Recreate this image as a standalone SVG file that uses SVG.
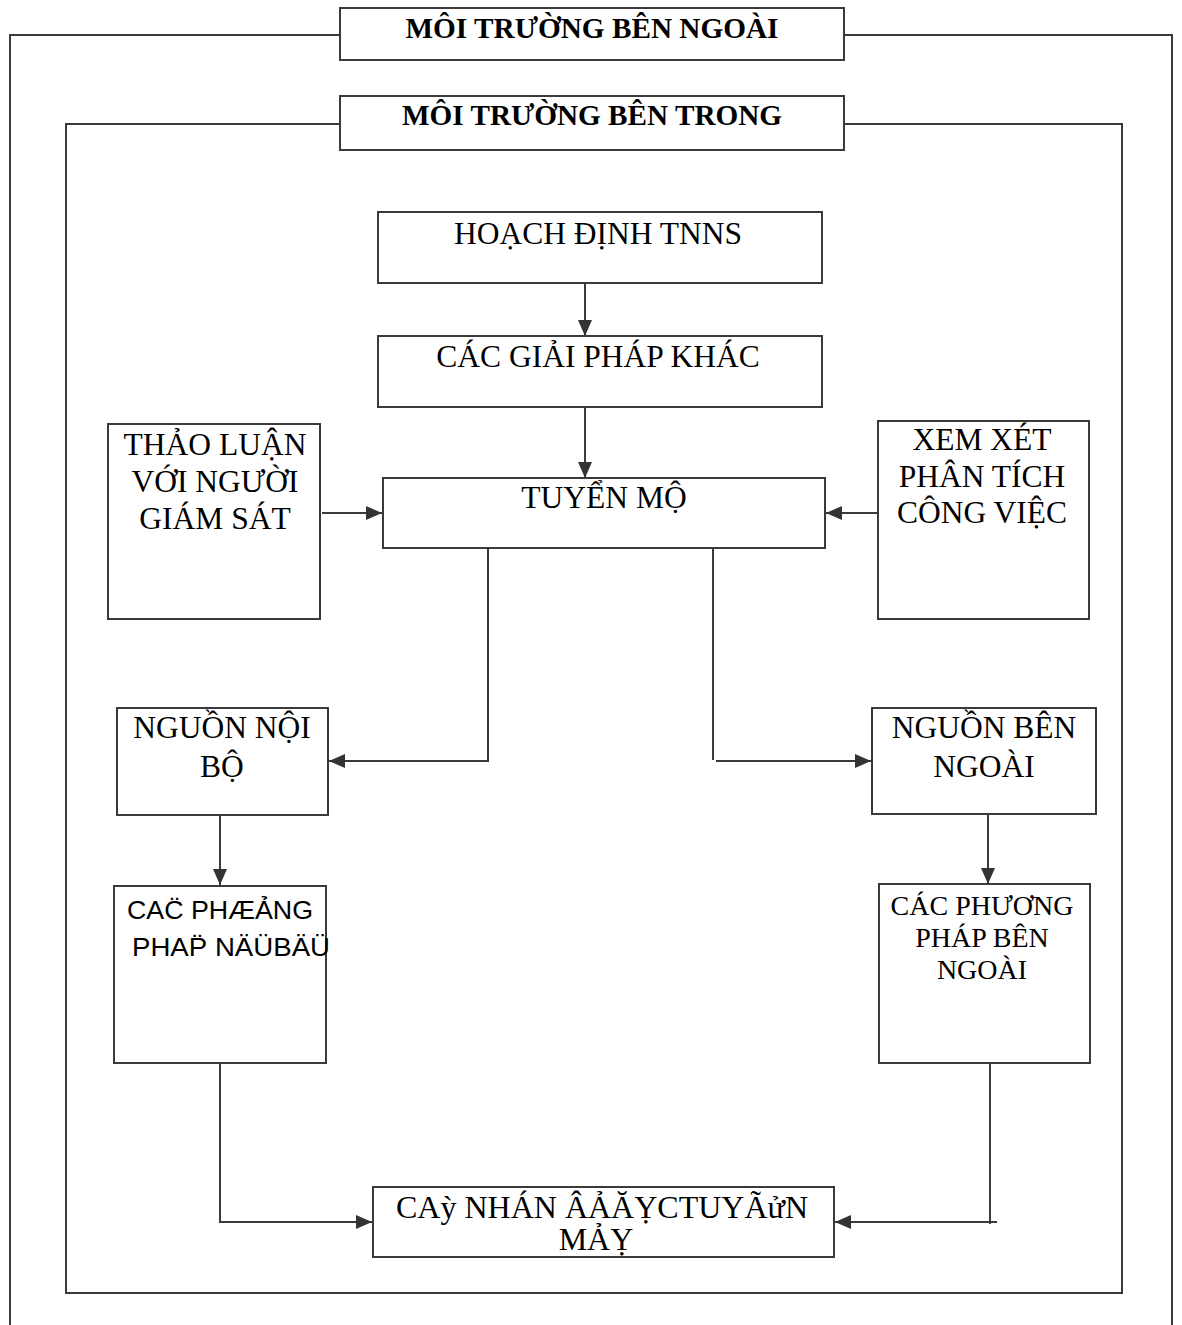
<svg xmlns="http://www.w3.org/2000/svg" width="1182" height="1325" viewBox="0 0 1182 1325">
<style>
.frame{fill:none;stroke:#3a3a3a;stroke-width:2}
.box{fill:#fff;stroke:#3a3a3a;stroke-width:2}
.t{font-family:"Liberation Serif","Times New Roman",serif;font-size:31.5px;fill:#000;text-anchor:middle}
.tb{font-family:"Liberation Serif","Times New Roman",serif;font-size:30px;font-weight:bold;fill:#000;text-anchor:middle}
.ts{font-family:"Liberation Sans",Arial,sans-serif;font-size:26.5px;fill:#000}
.c{fill:none;stroke:#3a3a3a;stroke-width:2}
</style>
<defs>
<marker id="ah" markerUnits="userSpaceOnUse" markerWidth="16" markerHeight="14" refX="16" refY="7" orient="auto">
<path d="M0,0 L16,7 L0,14 z" fill="#333"/>
</marker>
</defs>
<rect x="0" y="0" width="1182" height="1325" fill="#fff"/>
<g id="outer-frame">
<path class="frame" d="M10,1325 V35 H1172 V1325"/>
</g>
<g id="title-outer">
<rect class="box" x="340" y="8" width="504" height="52"/>
<text class="tb" x="592" y="38" textLength="373" lengthAdjust="spacingAndGlyphs">MÔI TRƯỜNG BÊN NGOÀI</text>
</g>
<g id="inner-frame">
<rect class="frame" x="66" y="124" width="1056" height="1169"/>
</g>
<g id="title-inner">
<rect class="box" x="340" y="96" width="504" height="54"/>
<text class="tb" x="592" y="125" textLength="380" lengthAdjust="spacingAndGlyphs">MÔI TRƯỜNG BÊN TRONG</text>
</g>
<g id="connectors">
<path class="c" d="M585,283 V336" marker-end="url(#ah)"/>
<path class="c" d="M585,407 V478" marker-end="url(#ah)"/>
<path class="c" d="M322,513 H382" marker-end="url(#ah)"/>
<path class="c" d="M878,513 H826" marker-end="url(#ah)"/>
<path class="c" d="M488,548 V761 H329" marker-end="url(#ah)"/>
<path class="c" d="M713,548 V760"/>
<path class="c" d="M716,761 H871" marker-end="url(#ah)"/>
<path class="c" d="M220,815 V885" marker-end="url(#ah)"/>
<path class="c" d="M988,814 V884" marker-end="url(#ah)"/>
<path class="c" d="M220,1063 V1222 H372" marker-end="url(#ah)"/>
<path class="c" d="M990,1063 V1224"/>
<path class="c" d="M997,1222 H835" marker-end="url(#ah)"/>
</g>
<g id="hoach-dinh">
<rect class="box" x="378" y="212" width="444" height="71"/>
<text class="t" x="598" y="244">HOẠCH ĐỊNH TNNS</text>
</g>
<g id="giai-phap-khac">
<rect class="box" x="378" y="336" width="444" height="71"/>
<text class="t" x="598" y="367">CÁC GIẢI PHÁP KHÁC</text>
</g>
<g id="tuyen-mo">
<rect class="box" x="383" y="478" width="442" height="70"/>
<text class="t" x="604" y="508">TUYỂN MỘ</text>
</g>
<g id="thao-luan">
<rect class="box" x="108" y="424" width="212" height="195"/>
<text class="t" x="215" y="455">THẢO LUẬN</text>
<text class="t" x="215" y="492">VỚI NGƯỜI</text>
<text class="t" x="215" y="529">GIÁM SÁT</text>
</g>
<g id="xem-xet">
<rect class="box" x="878" y="421" width="211" height="198"/>
<text class="t" x="982" y="450">XEM XÉT</text>
<text class="t" x="982" y="487">PHÂN TÍCH</text>
<text class="t" x="982" y="523">CÔNG VIỆC</text>
</g>
<g id="nguon-noi-bo">
<rect class="box" x="117" y="708" width="211" height="107"/>
<text class="t" x="222" y="738">NGUỒN NỘI</text>
<text class="t" x="222" y="777">BỘ</text>
</g>
<g id="nguon-ben-ngoai">
<rect class="box" x="872" y="708" width="224" height="106"/>
<text class="t" x="984" y="738">NGUỒN BÊN</text>
<text class="t" x="984" y="777">NGOÀI</text>
</g>
<g id="phuong-phap-noi-bo">
<rect class="box" x="114" y="886" width="212" height="177"/>
<text class="ts" x="127" y="919" textLength="186" lengthAdjust="spacingAndGlyphs">CAC̈ PHÆẢNG</text>
<text class="ts" x="132" y="956" textLength="198" lengthAdjust="spacingAndGlyphs">PHAP̈ NÄÜBÄÜ</text>
</g>
<g id="phuong-phap-ben-ngoai">
<rect class="box" x="879" y="884" width="211" height="179"/>
<text class="t" x="982" y="915" style="font-size:28px">CÁC PHƯƠNG</text>
<text class="t" x="982" y="947" style="font-size:28px">PHÁP BÊN</text>
<text class="t" x="982" y="979" style="font-size:28px">NGOÀI</text>
</g>
<g id="ca-nhan">
<rect class="box" x="373" y="1187" width="461" height="70"/>
<text class="t" x="602" y="1218" style="font-size:32px">CAỳ NHÁN ÂẢĂỴCTUYÃửN</text>
<text class="t" x="596" y="1250" style="font-size:32px">MẢỴ</text>
</g>
</svg>
